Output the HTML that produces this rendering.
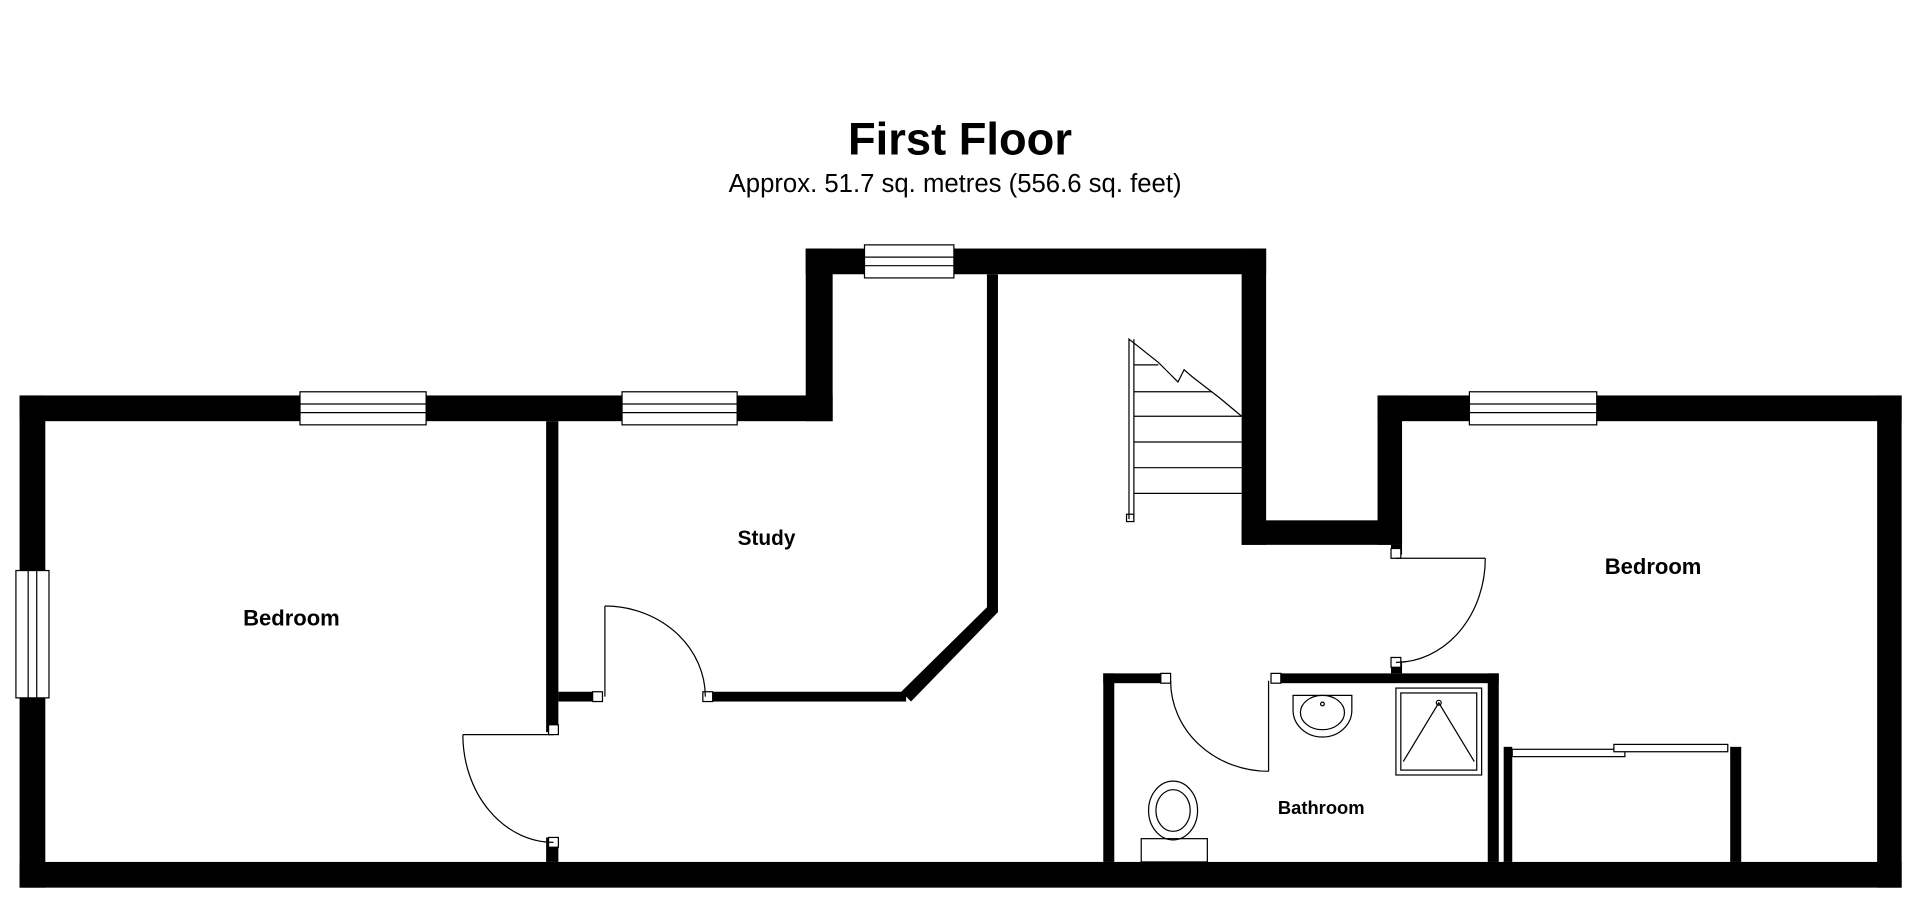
<!DOCTYPE html>
<html><head><meta charset="utf-8"><style>
html,body{margin:0;padding:0;background:#fff;}
svg{display:block;}
text{font-family:"Liberation Sans",Arial,sans-serif;fill:#000;}
</style></head><body>
<svg width="1920" height="906" viewBox="0 0 1568 740" preserveAspectRatio="none" xmlns="http://www.w3.org/2000/svg">
<text x="784" y="126" font-size="37" font-weight="bold" text-anchor="middle">First Floor</text>
<text x="780" y="157" font-size="21" text-anchor="middle">Approx. 51.7 sq. metres (556.6 sq. feet)</text>
<g fill="#000">
<rect x="16" y="323" width="21" height="402"/>
<rect x="16" y="704" width="1537" height="21"/>
<rect x="16" y="323" width="664" height="21"/>
<rect x="658" y="203" width="22" height="141"/>
<rect x="658" y="203" width="376" height="21"/>
<rect x="1014" y="203" width="20" height="242"/>
<rect x="1014" y="425" width="131" height="20"/>
<rect x="1125" y="323" width="20" height="122"/>
<rect x="1125" y="323" width="428" height="21"/>
<rect x="1533" y="323" width="20" height="402"/>
<rect x="446" y="344" width="10" height="254"/>
<rect x="446" y="684" width="10" height="20"/>
<rect x="456" y="565" width="34" height="8"/>
<rect x="582" y="565" width="158" height="8"/>
<polygon points="736,565 806,496 815,500 744,573"/>
<rect x="806" y="224" width="9" height="276"/>
<rect x="1136" y="445" width="9" height="8"/>
<rect x="1136" y="540" width="9" height="10"/>
<rect x="901" y="550" width="9" height="154"/>
<rect x="901" y="550" width="54" height="8"/>
<rect x="1040" y="550" width="184" height="8"/>
<rect x="1215" y="550" width="9" height="154"/>
<rect x="1228" y="610" width="7" height="94"/>
<rect x="1413" y="610" width="9" height="94"/>
</g>
<g fill="#fff" stroke="#000" stroke-width="1">
<rect x="245" y="320" width="103" height="27"/><line x1="245" y1="330" x2="348" y2="330"/><line x1="245" y1="337" x2="348" y2="337"/>
<rect x="508" y="320" width="94" height="27"/><line x1="508" y1="330" x2="602" y2="330"/><line x1="508" y1="337" x2="602" y2="337"/>
<rect x="706" y="200" width="73" height="27"/><line x1="706" y1="210" x2="779" y2="210"/><line x1="706" y1="217" x2="779" y2="217"/>
<rect x="1200" y="320" width="104" height="27"/><line x1="1200" y1="330" x2="1304" y2="330"/><line x1="1200" y1="337" x2="1304" y2="337"/>
<rect x="13" y="466" width="27" height="104"/><line x1="23" y1="466" x2="23" y2="570"/><line x1="30" y1="466" x2="30" y2="570"/>
<rect x="448" y="592" width="8" height="8"/><rect x="448" y="684" width="8" height="8"/>
<rect x="484" y="565" width="8" height="8"/><rect x="574" y="565" width="8" height="8"/>
<rect x="948" y="550" width="8" height="8"/><rect x="1038" y="550" width="8" height="8"/>
<rect x="1136" y="448" width="8" height="8"/><rect x="1136" y="537" width="8" height="8"/>
<rect x="1235" y="612" width="92" height="6"/><rect x="1318" y="608" width="93" height="6"/>
<rect x="920" y="420" width="6" height="6"/>
</g>
<g fill="none" stroke="#000" stroke-width="1">
<line x1="452" y1="600" x2="378" y2="600"/><path d="M378,600 A74,88 0 0 0 452,688"/>
<line x1="494" y1="569" x2="494" y2="495"/><path d="M494,495 A82,74 0 0 1 576,569"/>
<line x1="1213" y1="456" x2="1140" y2="456"/><path d="M1213,456 A73,85 0 0 1 1140,541"/>
<line x1="1036" y1="556" x2="1036" y2="630"/><path d="M956,556 A80,74 0 0 0 1036,630"/>
<polyline points="922,424 922,277 946,296 952,302 962,312 967,302 974,308 996,325 1014,340"/>
<line x1="926" y1="340" x2="1014" y2="340"/>
<line x1="926" y1="361" x2="1014" y2="361"/>
<line x1="926" y1="382" x2="1014" y2="382"/>
<line x1="926" y1="403" x2="1014" y2="403"/>
<line x1="926" y1="320" x2="990" y2="320"/>
<line x1="926" y1="298" x2="946" y2="298"/>
<line x1="926" y1="277" x2="926" y2="424"/>
<path d="M1056,568 L1104,568 L1104,580 A24,22 0 0 1 1056,580 Z"/>
<ellipse cx="1080" cy="582" rx="18" ry="14"/>
<circle cx="1080" cy="575" r="1.5"/>
<rect x="1140" y="562" width="70" height="71"/><rect x="1144" y="566" width="62" height="63"/>
<path d="M1146,622 L1175,574 L1204,622"/><circle cx="1175" cy="574" r="2"/>
<ellipse cx="958" cy="662" rx="20" ry="24"/><ellipse cx="958" cy="662" rx="14" ry="17"/>
<rect x="932" y="685" width="54" height="19"/>
</g>
<text x="238" y="511" font-size="18" font-weight="bold" text-anchor="middle">Bedroom</text>
<text x="626" y="445" font-size="17" font-weight="bold" text-anchor="middle">Study</text>
<text x="1350" y="469" font-size="18" font-weight="bold" text-anchor="middle">Bedroom</text>
<text x="1079" y="665" font-size="15" font-weight="bold" text-anchor="middle">Bathroom</text>
</svg>
</body></html>
